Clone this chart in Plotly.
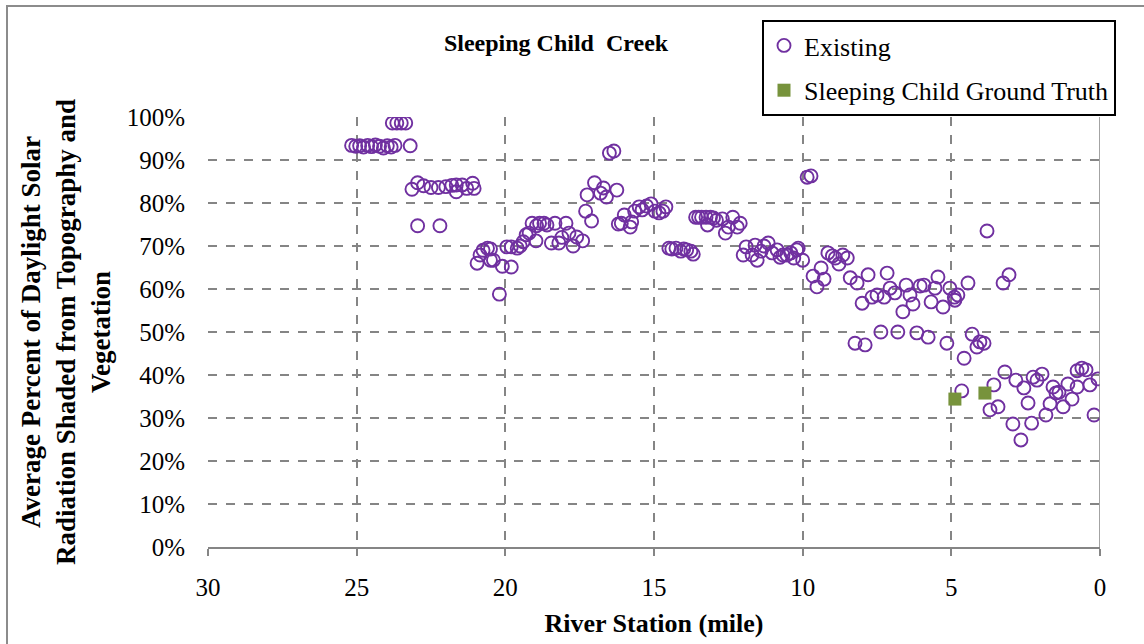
import plotly.graph_objects as go

# River station (mile) and % shaded for "Existing"
existing_mile = [
    25.17, 25.03, 24.9, 24.77, 24.63, 24.5, 24.37, 24.23, 24.1, 23.97, 23.84, 23.71, 23.2,
    23.8, 23.65, 23.5, 23.35,
    23.14, 22.95, 22.75, 22.5, 22.25, 22.0, 21.8, 21.65, 21.45, 21.65, 21.3, 21.1, 21.05,
    22.95, 22.2,
    20.95, 20.85, 20.75, 20.6, 20.5, 20.5, 20.4, 20.1, 19.8, 20.2,
    19.95, 19.8, 19.6, 19.5, 19.4, 19.3, 19.2, 19.1, 18.95, 18.85, 18.7, 18.6, 18.97, 18.45,
    18.33, 18.2, 18.1, 17.96, 17.86, 17.72, 17.6, 17.4, 17.3, 17.1, 17.25, 17.0, 16.8, 16.7,
    16.6, 16.25, 16.2, 16.5, 16.35,
    16.1, 16.0, 15.8, 15.75, 15.65, 15.5, 15.4, 15.25, 15.1, 14.97, 14.83, 14.7, 14.6,
    14.5, 14.4, 14.26, 14.1, 14.0, 13.9, 13.76, 13.68,
    13.6, 13.5, 13.4, 13.25, 13.2, 13.1, 13.0, 12.9, 12.7, 12.6, 12.5, 12.35, 12.2, 12.1,
    12.0, 11.9, 11.7, 11.6, 11.53, 11.4, 11.3, 11.16, 11.03, 10.86, 10.76, 10.66, 10.53,
    10.4, 10.3, 10.2, 10.15, 10.0,
    9.85, 9.72,
    9.65, 9.52, 9.38, 9.28,
    9.15, 9.0, 8.9, 8.78, 8.65, 8.5,
    8.4, 8.17, 7.8, 7.16,
    8.0, 7.67, 7.5, 7.26, 7.06, 6.9, 6.63, 6.52, 6.39, 6.29, 6.05, 5.92, 5.68, 5.55, 5.45,
    5.28, 5.05, 4.9, 4.88, 4.78, 4.44, 3.8, 3.26, 3.06,
    8.24, 7.9, 7.37, 6.8, 6.16, 5.78, 5.15,
    4.57, 4.3, 4.14, 4.04, 3.9,
    4.65, 3.7, 3.57, 3.43, 3.2, 2.93, 2.83, 2.66, 2.56, 2.42, 2.3, 2.25, 2.12, 1.95, 1.82,
    1.68, 1.58, 1.48, 1.38, 1.24, 1.08, 0.94, 0.77, 0.77, 0.61, 0.47, 0.34, 0.2, 0.07,
]
existing_pct = [
    93.4, 93.2, 93.3, 93.0, 93.4, 93.1, 93.5, 93.2, 92.8, 93.3, 93.0, 93.4, 93.3,
    98.6, 98.6, 98.6, 98.6,
    83.2, 84.7, 84.0, 83.6, 83.6, 83.8, 84.1, 84.2, 84.2, 82.6, 83.4, 84.6, 83.4,
    74.7, 74.7,
    66.0, 67.9, 69.0, 69.5, 69.3, 66.7, 66.7, 65.3, 65.1, 58.8,
    69.8, 69.8, 69.5, 70.0, 71.0, 72.6, 73.0, 75.3, 74.7, 75.3, 75.3, 74.9, 71.2, 70.7,
    75.3, 70.7, 72.0, 75.3, 73.0, 70.0, 72.1, 71.2, 78.1, 75.8, 81.9, 84.7, 82.3, 83.5,
    81.4, 83.0, 75.1, 91.6, 92.1,
    75.3, 77.2, 74.4, 75.6, 78.1, 79.1, 78.4, 79.3, 79.8, 78.1, 77.7, 78.1, 79.1,
    69.5, 69.3, 69.5, 68.8, 69.3, 69.1, 68.8, 68.1,
    76.7, 76.7, 76.7, 76.7, 74.9, 76.7, 76.5, 76.0, 76.3, 73.0, 74.4, 76.7, 74.4, 75.3,
    67.9, 69.8, 67.9, 70.2, 66.7, 68.8, 70.0, 70.7, 68.4, 69.1, 67.4, 67.9, 67.9,
    68.4, 67.2, 69.1, 69.5, 66.7,
    86.0, 86.3,
    63.0, 60.5, 64.9, 62.3,
    68.4, 67.7, 67.2, 65.8, 67.9, 67.2,
    62.6, 61.4, 63.3, 63.7,
    56.7, 58.1, 58.6, 58.1, 60.2, 59.1, 54.7, 60.9, 58.6, 56.5, 60.7, 60.9, 57.0, 60.2, 62.8,
    55.8, 60.2, 58.1, 57.4, 58.6, 61.4, 73.5, 61.4, 63.3,
    47.4, 47.0, 50.0, 50.0, 49.8, 48.8, 47.4,
    43.9, 49.5, 46.5, 47.7, 47.4,
    36.3, 31.9, 37.7, 32.6, 40.7, 28.6, 38.8, 24.9, 37.0, 33.5, 28.8, 39.5, 38.8, 40.2, 30.7,
    33.3, 37.2, 35.8, 36.0, 32.6, 37.9, 34.4, 37.2, 41.0, 41.6, 41.2, 37.7, 30.7, 39.1,
]

# Ground truth
truth_mile = [4.88, 3.87]
truth_pct = [34.4, 35.8]

x_ticks = [30, 25, 20, 15, 10, 5, 0]
y_ticks = [0, 10, 20, 30, 40, 50, 60, 70, 80, 90, 100]

PURPLE = "#7030A0"
GREEN = "#77933C"
GRID = "#858585"
FONT = "Liberation Serif"

fig = go.Figure()
fig.add_trace(go.Scatter(
    x=existing_mile, y=existing_pct, mode="markers", name="Existing",
    legendgroup="a",
    marker=dict(symbol="circle-open", size=13, color=PURPLE, line=dict(width=1.9, color=PURPLE)),
))
fig.add_trace(go.Scatter(
    x=truth_mile, y=truth_pct, mode="markers", name="Sleeping Child Ground Truth",
    legendgroup="b",
    marker=dict(symbol="square", size=13, color=GREEN, line=dict(width=0)),
))

# solid right-hand axis line at x = 0
fig.add_shape(type="line", xref="x", yref="y", x0=0, x1=0, y0=0, y1=100,
              line=dict(color=GRID, width=1.5))
# outer chart frame
W, H = 1144, 644
L, R, T, B = 208, 1100, 117, 547
def px(xp):
    return (xp - L) / (R - L)
def py(yp):
    return (B - yp) / (B - T)
fig.add_shape(type="rect", xref="paper", yref="paper",
              x0=px(7), x1=px(1160), y0=py(660), y1=py(6),
              line=dict(color="#8c8c8c", width=2), fillcolor="rgba(0,0,0,0)", layer="below")

fig.update_layout(
    width=W, height=H,
    margin=dict(l=L, r=W - R, t=T, b=H - B),
    paper_bgcolor="white", plot_bgcolor="white",
    font=dict(family=FONT, size=25, color="black"),
    title=dict(text="<b>Sleeping Child  Creek</b>", xref="paper", x=px(556), xanchor="center",
               yref="container", y=1 - 43 / H, yanchor="middle", font=dict(size=24, family=FONT)),
    showlegend=True,
    legend=dict(x=px(762), y=py(20), xanchor="left", yanchor="top",
                bordercolor="black", borderwidth=2, bgcolor="white",
                font=dict(size=26, family=FONT), traceorder="grouped",
                tracegroupgap=8, itemwidth=30),
)
fig.update_xaxes(
    range=[30, 0], tickvals=x_ticks, ticktext=[str(v) for v in x_ticks],
    showgrid=True, gridcolor=GRID, griddash="dash", gridwidth=1.5,
    showline=True, linecolor=GRID, linewidth=1.5,
    ticks="outside", ticklen=7, tickcolor=GRID, tickwidth=1.5,
    ticklabelstandoff=10,
    zeroline=False,
    title=dict(text="<b>River Station (mile)</b>", font=dict(size=26, family=FONT), standoff=14),
    tickfont=dict(size=25, family=FONT),
)
fig.update_yaxes(
    range=[0, 100], tickvals=y_ticks, ticktext=[f"{v}%" for v in y_ticks],
    showgrid=True, gridcolor=GRID, griddash="dash", gridwidth=1.5,
    showline=False, zeroline=False, ticks="", ticklabelstandoff=22,
    title=dict(text="<b>Average Percent of Daylight Solar<br>Radiation Shaded from Topography and<br>Vegetation</b>",
               font=dict(size=27, family=FONT), standoff=8),
    tickfont=dict(size=25, family=FONT),
)

fig.write_html("out.html")
